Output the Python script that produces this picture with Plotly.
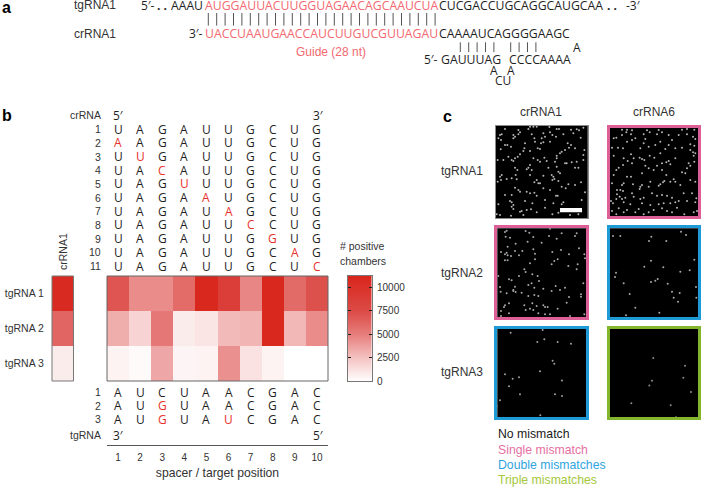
import plotly.graph_objects as go

W, H = 701, 487
SEQ = "Open Sans"
SANS = "Liberation Sans"
INK = "#1f1f1f"
RED = "#e8302a"
SALMON = "#f4686f"

# ---- panel b data
positions = [1, 2, 3, 4, 5, 6, 7, 8, 9, 10]
targets = ["tgRNA 1", "tgRNA 2", "tgRNA 3"]
chambers_1 = [7000, 4500, 4500, 5900, 11000, 8800, 4700, 11000, 6000, 7200]
chambers_2 = [3300, 1800, 5300, 800, 1100, 2800, 3000, 11000, 2900, 4500]
chambers_3 = [500, 200, 3500, 400, 500, 4300, 1200, 500, 0, 0]
crRNA1_chambers = [10800, 6200, 800]
scale_levels = [0, 11200]
scale_ticks = [0, 2500, 5000, 7500, 10000]
colorstops = [[0, "#ffffff"], [0.22, "#f4c4c3"], [0.45, "#e67d7b"], [0.67, "#dc4b47"], [1, "#d9261c"]]

cr_seq = "UAGAUUGCUG"
cr_mut = {2: (1, "A"), 3: (2, "U"), 4: (3, "C"), 5: (4, "U"), 6: (5, "A"),
          7: (6, "A"), 8: (7, "C"), 9: (8, "G"), 10: (9, "A"), 11: (10, "C")}
tg_rows = ["AUCUAACGAC", "AUGUAACGAC", "AUGUAUCGAC"]
tg_red = {1: [], 2: [3], 3: [3, 6]}

# ---- panel a base-pair tick indices
guide_pairs = list(range(0, 28))
tail_pairs = [30, 31, 32, 33, 34, 36, 37, 38, 39]

spots_11_x = [105,115,125,163,30,70,100,185,192,228,245,252,265,15,20,55,60,70,75,145,150,140,165,172,183,205,235,257,10,18,110,118,55,120,90,30,37,48,88,138,145,165,218,228,240,222,268,210,200,17,128,135,105,85,185,195,265,75,68,60,40,50,55,115,128,135,148,155,230,245,185,215,8,25,265,180,105,100,95,110,60,67,185,240,190,210,250,160,20,15,18,8,35,50,62,65,145,170,175,195,105,125,172,178,190,220,240,258,118,135,130,60,70,95,105,118,125,145,165,183,188,200,212,270,30,75,50,45,50,55,10,90,112,150,175,200,260,205,50,55,75,95,108,125,150,172,190,225,250,48,15,5,80,85]
spots_11_y = [5,5,5,6,12,15,12,12,12,14,13,16,8,30,28,30,35,28,22,25,35,40,22,30,35,28,25,38,40,45,28,40,40,50,55,60,60,65,70,55,52,50,55,60,70,68,75,75,80,73,70,72,78,78,92,85,90,88,95,100,95,105,108,100,105,110,98,108,112,110,100,115,105,105,105,110,120,128,133,135,128,135,125,128,140,115,128,128,150,155,165,170,162,160,150,163,152,150,155,145,150,165,165,162,168,178,180,172,172,175,175,188,195,200,205,203,212,190,195,212,212,185,190,202,210,200,210,228,232,240,238,228,235,225,235,238,225,232,245,252,260,255,253,262,248,268,263,270,268,272,270,268,258,270]

spots_12_x = [45,60,75,120,128,155,225,240,262,20,28,45,58,72,85,110,115,150,165,185,195,215,240,258,265,15,33,48,60,75,100,110,125,145,160,185,205,225,250,262,250,258,265,20,50,72,80,62,98,105,112,128,142,160,175,185,205,260,262,35,28,48,75,115,125,150,165,178,190,245,250,240,60,72,105,20,15,140,165,178,225,235,250,265,45,50,78,100,105,98,160,168,172,190,200,205,155,220,130,125,30,40,48,30,28,38,45,55,75,80,100,110,135,150,165,180,195,230,255,268,12,18,50,70,105,130,155,170,190,205,215,240,265,35,60,95,125,140,165,180,210,232,260,270,28,50,15,85,110,195]
spots_12_y = [14,14,16,16,22,15,14,12,14,40,38,30,22,28,40,28,42,28,22,30,45,30,28,35,42,68,68,70,50,45,70,55,65,60,50,60,70,68,58,62,75,82,85,92,100,88,100,108,98,102,105,92,98,85,72,108,100,92,110,128,135,120,115,122,130,122,115,112,118,115,122,130,155,155,145,150,175,135,135,150,142,145,165,170,180,175,178,185,180,192,178,172,168,170,163,170,182,180,170,185,195,195,198,208,222,215,222,218,205,215,222,218,205,212,210,212,218,205,205,220,228,235,232,238,235,240,238,235,235,232,228,228,232,250,255,252,262,255,250,258,248,268,262,258,268,262,258,262,268,262]

spots_21_x = [30,35,92,103,165,200,245,240,32,45,115,185,162,62,98,140,38,252,18,35,30,60,82,115,120,172,198,222,38,48,72,30,38,120,188,178,170,105,220,248,268,270,88,92,245,10,112,128,42,50,72,132,15,110,60,100,118,145,182,210,265,17,55,62,35,80,100,118,130,170,195,222,258,258,30,42,88,112,125,145,150,158,188,215,27,18,42,92,115,130,150,165,18,225,268,105,55]
spots_21_y = [18,14,15,20,8,22,22,30,32,35,33,38,30,53,47,50,62,67,78,80,85,75,75,70,83,78,72,85,88,90,88,103,103,100,100,105,115,112,120,115,85,97,130,138,130,150,145,150,160,163,150,165,183,172,182,177,185,188,180,185,172,197,192,198,202,200,210,207,210,195,192,213,205,212,238,232,238,232,240,238,243,243,248,230,243,255,262,252,252,262,265,265,270,270,265,248,195]

spots_22_x = [222,237,133,126,178,18,40,132,262,112,169,248,220,27,24,152,145,132,182,50,267,195,218,68,200,268,213,85,157,57]
spots_22_y = [17,27,32,45,45,30,30,104,101,122,124,133,137,140,153,159,164,168,173,172,183,197,201,204,215,215,227,245,260,268]

spots_31_x = [143,47,127,148,188,228,173,178,30,135,53,72,201,42,75,180,201,15,5,136]
spots_31_y = [12,20,48,40,48,53,104,113,144,135,158,153,163,180,204,204,209,222,240,267]

spots_32_x = [475,570,471,565,463,588,409,527,543]
spots_32_y = [96,119,164,155,178,197,231,237,273]

# ---- panel c layout: inner box in page px, crop-pixel range, frame
panels = [
    dict(box=(495.7, 587.7, 125.7, 218.3), xr=(2, 278), yr=(280, 2), col="#8a8a8a", lw=1, dot="#b4b4b4", x=spots_11_x, y=spots_11_y),
    dict(box=(610, 698, 127.7, 216.3), xr=(9, 273), yr=(274, 8), col="#dd5f98", lw=3, dot="#b4b4b4", x=spots_12_x, y=spots_12_y),
    dict(box=(497.3, 586, 228.3, 317), xr=(7, 273), yr=(273, 7), col="#dd5f98", lw=3, dot="#a8a8a8", x=spots_21_x, y=spots_21_y),
    dict(box=(610, 698, 228.3, 317), xr=(9, 273), yr=(273, 7), col="#1e9ad6", lw=3, dot="#a8a8a8", x=spots_22_x, y=spots_22_y),
    dict(box=(497.3, 586, 329, 417.3), xr=(7, 273), yr=(273, 9), col="#1e9ad6", lw=3, dot="#a0a0a0", x=spots_31_x, y=spots_31_y),
    dict(box=(610, 698, 329, 417.3), xr=(345, 609), yr=(273, 9), col="#84b52e", lw=3, dot="#8c8c8c", x=spots_32_x, y=spots_32_y),
]


def xd(a, b):
    return [a / W, b / W]


def yd(top, bottom):
    return [1 - bottom / H, 1 - top / H]


fig = go.Figure()
annots = []


def txt(x, y, s, size=12, color=INK, font=SANS, anchor="center", xref="paper", **kw):
    annots.append(dict(x=x if xref != "paper" else x / W, y=1 - y / H, xref=xref, yref="paper", text=s,
                       showarrow=False, xanchor=anchor, yanchor="middle", borderpad=0,
                       font=dict(size=size, color=color, family=font), **kw))


# heatmaps
fig.add_trace(go.Heatmap(x=positions, y=targets, z=[chambers_1, chambers_2, chambers_3], coloraxis="coloraxis",
                         xaxis="x", yaxis="y", hoverinfo="skip"))
fig.add_trace(go.Heatmap(x=["crRNA1"], y=targets, z=[[v] for v in crRNA1_chambers], coloraxis="coloraxis",
                         xaxis="x2", yaxis="y2", hoverinfo="skip"))
fig.add_trace(go.Heatmap(x=[0, 1], y=scale_levels, z=[[v, v] for v in scale_levels], coloraxis="coloraxis",
                         zsmooth="best", xaxis="x3", yaxis="y3", hoverinfo="skip"))

layout = dict(
    width=W, height=H, margin=dict(l=0, r=0, t=0, b=0, autoexpand=False), paper_bgcolor="white",
    plot_bgcolor="rgba(0,0,0,0)", showlegend=False,
    coloraxis=dict(colorscale=colorstops, cmin=0, cmax=11200, showscale=False),
    xaxis=dict(domain=xd(107, 328), range=[0.5, 10.5], anchor="free", position=1 - 445.3 / H, showline=True,
               linecolor="#555555", linewidth=1, showgrid=False, zeroline=False, tickvals=positions, ticks="outside",
               ticklen=3, tickcolor="rgba(0,0,0,0)", tickfont=dict(size=10, family=SANS, color="#333333"),
               title=dict(text="spacer / target position", standoff=6, font=dict(size=12.2, family=SANS, color="#333333"))),
    yaxis=dict(domain=yd(276, 381), autorange="reversed", visible=False, anchor="x"),
    xaxis2=dict(domain=xd(52, 73.5), visible=False, anchor="y2"),
    yaxis2=dict(domain=yd(276, 381), autorange="reversed", anchor="x2", showticklabels=True, ticks="outside",
                ticklen=5, tickcolor="rgba(0,0,0,0)", tickfont=dict(size=10.5, family=SANS, color="#333333"),
                showline=False, showgrid=False, zeroline=False),
    xaxis3=dict(domain=xd(347.5, 372), range=[0, 1], anchor="y3", showticklabels=False, ticks="", showline=True,
                linecolor="#777777", mirror=True, showgrid=False, zeroline=False),
    yaxis3=dict(domain=yd(276, 381), range=[0, 11200], anchor="x3", side="right", tickvals=scale_ticks, ticks="inside",
                tickformat="d", ticklabelstandoff=2,
                ticklen=3, tickcolor="#222222", showline=True, linecolor="#777777", mirror="ticks", showgrid=False,
                zeroline=False, tickfont=dict(size=10, family=SANS, color="#333333")),
    xaxis10=dict(domain=[0, 1], range=[-208.3 / 8.4, (701 - 208.3) / 8.4], visible=False, anchor="y10"),
    yaxis10=dict(domain=[0, 1], range=[H, 0], visible=False, anchor="x10"),
)

shapes = [dict(type="rect", xref="x domain", yref="y domain", x0=0, x1=1, y0=0, y1=1,
               line=dict(color="#666666", width=1), layer="above"),
          dict(type="rect", xref="x2 domain", yref="y2 domain", x0=0, x1=1, y0=0, y1=1,
               line=dict(color="#777777", width=1), layer="above")]

# panel c
for i, p in enumerate(panels):
    n = i + 4
    x0, x1, y0, y1 = p["box"]
    layout[f"xaxis{n}"] = dict(domain=xd(x0, x1), range=list(p["xr"]), anchor=f"y{n}", showticklabels=False, ticks="",
                               showline=True, linecolor=p["col"], linewidth=p["lw"], mirror=True, showgrid=False, zeroline=False)
    layout[f"yaxis{n}"] = dict(domain=yd(y0, y1), range=list(p["yr"]), anchor=f"x{n}", showticklabels=False, ticks="",
                               showline=True, linecolor=p["col"], linewidth=p["lw"], mirror=True, showgrid=False, zeroline=False)
    shapes.append(dict(type="rect", xref=f"x{n} domain", yref=f"y{n} domain", x0=0, x1=1, y0=0, y1=1,
                       fillcolor="black", line_width=0, layer="below"))
    fig.add_trace(go.Scatter(x=p["x"], y=p["y"], mode="markers", xaxis=f"x{n}", yaxis=f"y{n}", hoverinfo="skip",
                             marker=dict(symbol="circle", size=2, color=p["dot"], line_width=0), cliponaxis=True))

# scale bar
shapes.append(dict(type="rect", xref="x4", yref="y4", x0=195, x1=261, y0=249, y1=262, fillcolor="white", line_width=0, layer="above"))

# base-pair ticks
fig.add_trace(go.Scatter(x=guide_pairs, y=[19.3] * len(guide_pairs), mode="markers", xaxis="x10", yaxis="y10", hoverinfo="skip",
                         marker=dict(symbol="line-ns", size=9, line=dict(color="#555555", width=1))))
fig.add_trace(go.Scatter(x=tail_pairs, y=[47.2] * len(tail_pairs), mode="markers", xaxis="x10", yaxis="y10", hoverinfo="skip",
                         marker=dict(symbol="line-ns", size=7, line=dict(color="#555555", width=1))))

# panel letters
txt(1, 7, "<b>a</b>", size=16, color="black", anchor="left")
txt(1, 115, "<b>b</b>", size=16, color="black", anchor="left")
txt(442, 117, "<b>c</b>", size=16, color="black", anchor="left")

# panel a text
txt(73, 5.5, "tgRNA1", anchor="left", color="#333333")
txt(73, 33.5, "crRNA1", anchor="left", color="#333333")
txt(140, 5.5, "5′-", size=12, font=SEQ, anchor="left")
txt(162, 5.5, "<b>. .</b>", size=12, font=SEQ)
txt(204, 5.5, "AAAU", size=12.2, font=SEQ, anchor="right")
txt(204, 5.5, "AUGGAUUACUUGGUAGAACAGCAAUCUA", size=12.25, font=SEQ, color=SALMON, anchor="left")
txt(438, 5.5, "CUCGACCUGCAGGCAUGCAA", size=12.25, font=SEQ, anchor="left")
txt(612, 5.5, "<b>. .</b>", size=12, font=SEQ)
txt(625, 5.5, "-3′", size=12, font=SEQ, anchor="left")
txt(204, 33.5, "3′-", size=12, font=SEQ, anchor="right")
txt(204, 33.5, "UACCUAAUGAACCAUCUUGUCGUUAGAU", size=12.25, font=SEQ, color=SALMON, anchor="left")
txt(438, 33.5, "CAAAAUCAGGGGAAGC", size=12.25, font=SEQ, anchor="left")
txt(330.8, 52, "Guide (28 nt)", size=12, color=SALMON)
txt(576.7, 47.7, "A", size=12, font=SEQ)
txt(423, 59.3, "5′-", size=12, font=SEQ, anchor="left")
txt(440, 59.3, "GAUUUAG", size=12.25, font=SEQ, anchor="left")
txt(507.7, 59.3, "CCCCAAAA", size=12.25, font=SEQ, anchor="left")
txt(494, 70.7, "A", size=12, font=SEQ)
txt(511, 70.7, "A", size=12, font=SEQ)
txt(502.7, 81, "CU", size=12, font=SEQ)

# panel b text
txt(101.5, 115, "crRNA", size=10.5, anchor="right", color="#333333")
txt(118.5, 115, "5′", size=12, font=SEQ, xref="paper")
txt(318.5, 115, "3′", size=12, font=SEQ, xref="paper")
for r in range(1, 12):
    y = 129.3 + (r - 1) * 13.67
    txt(101.5, y, str(r), size=10.5, anchor="right", color="#333333")
    mut = cr_mut.get(r)
    for pos, ch in zip(positions, cr_seq):
        red = mut is not None and mut[0] == pos
        txt(pos, y, mut[1] if red else ch, size=12, font=SEQ, color=RED if red else INK, xref="x")
for r, row in enumerate(tg_rows, start=1):
    y = 392 + (r - 1) * 13.65
    txt(101.5, y, str(r), size=10.5, anchor="right", color="#333333")
    for pos, ch in zip(positions, row):
        txt(pos, y, ch, size=12, font=SEQ, color=RED if pos in tg_red[r] else INK, xref="x")
txt(101.5, 435, "tgRNA", size=10.5, anchor="right", color="#333333")
txt(118.5, 435, "3′", size=12, font=SEQ)
txt(318.5, 435, "5′", size=12, font=SEQ)
txt(63, 252, "crRNA1", size=10.5, color="#333333", textangle=-90)
txt(339, 246, "# positive", size=10.5, anchor="left", color="#333333")
txt(339, 261, "chambers", size=10.5, anchor="left", color="#333333")

# panel c text
txt(541, 112, "crRNA1", color="#333333")
txt(654, 112, "crRNA6", color="#333333")
txt(440, 170.7, "tgRNA1", anchor="left", color="#333333")
txt(440, 273, "tgRNA2", anchor="left", color="#333333")
txt(440, 372, "tgRNA3", anchor="left", color="#333333")
txt(497, 434.3, "No mismatch", size=12.25, anchor="left", color="#1a1a1a")
txt(497, 449.7, "Single mismatch", size=12.25, anchor="left", color="#e66fa3")
txt(497, 465, "Double mismatches", size=12.25, anchor="left", color="#2fa4df")
txt(497, 480, "Triple mismatches", size=12.25, anchor="left", color="#a5c83c")

layout["annotations"] = annots
layout["shapes"] = shapes
fig.update_layout(**layout)
fig.write_html("out.html", config={"displayModeBar": False}, post_script="document.body.style.margin='0';")
